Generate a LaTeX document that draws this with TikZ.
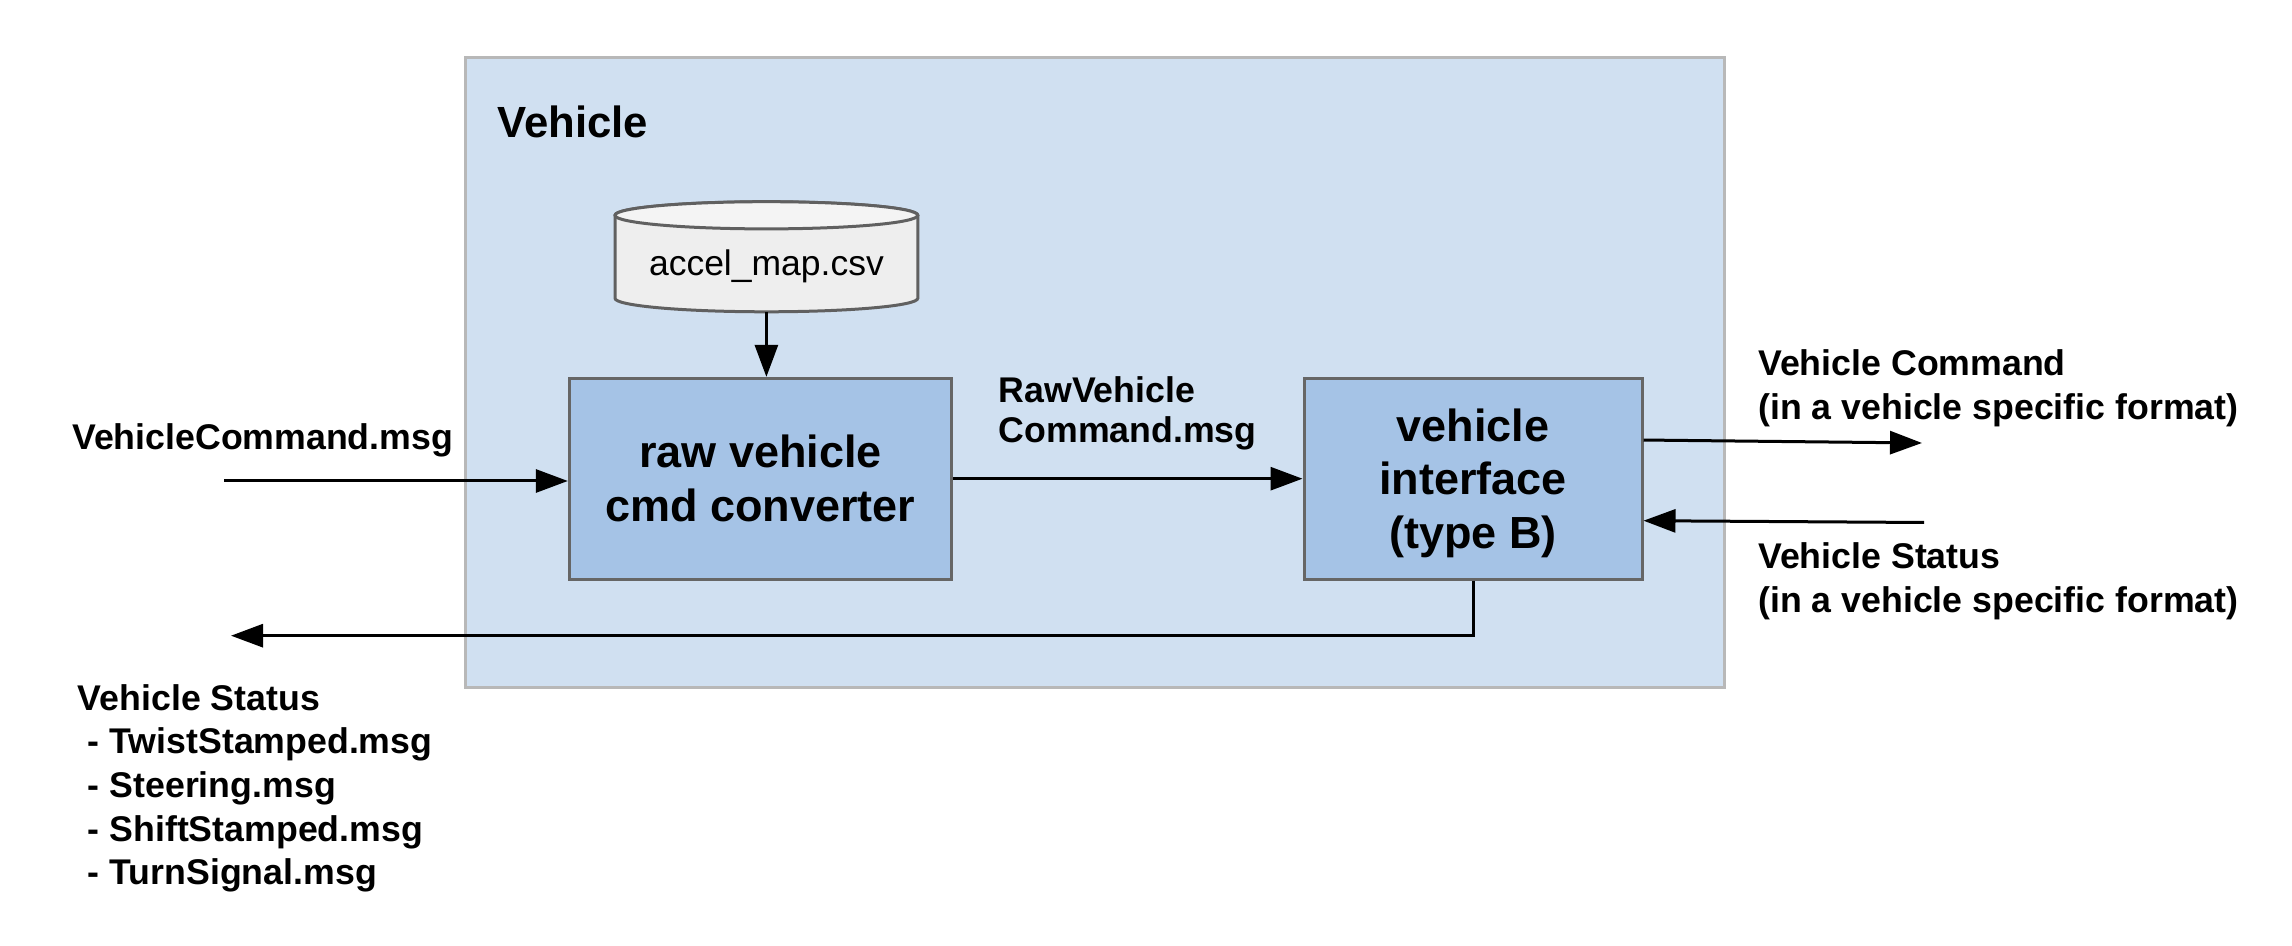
\documentclass[tikz,border=0pt]{standalone}
\usepackage{fontspec}
\setmainfont{Liberation Sans}
\usetikzlibrary{arrows.meta}
\definecolor{vehfill}{HTML}{D0E0F1}
\definecolor{vehline}{HTML}{B8B8B8}
\definecolor{boxfill}{HTML}{A5C3E6}
\definecolor{boxline}{HTML}{666666}
\definecolor{cylbody}{HTML}{EEEEEE}
\definecolor{cyltop}{HTML}{F4F4F4}
\definecolor{cylline}{HTML}{606060}
\begin{document}
\begin{tikzpicture}[x=0.3pt,y=0.3pt,
  conn/.style={line width=0.9pt,-{Triangle[length=9.6pt,width=6.9pt]}},
  blockbox/.style={draw=boxline,line width=0.9pt,fill=boxfill,inner sep=0pt,align=center,
    minimum height=60.2pt,font=\fontsize{13.5}{16.1}\selectfont\bfseries},
  lbl/.style={inner sep=0pt,align=left,font=\fontsize{10.71}{13.2}\selectfont\bfseries},
  container/.style={draw=vehline,fill=vehfill,line width=0.9pt,inner sep=0pt},
  cylshape/.style={draw=cylline,line width=0.9pt}
]
\useasboundingbox (0,0) rectangle (2292,-946);
% container
\node[container,minimum width=377.7pt,minimum height=189pt] (veh) at (1094.5,-372.4) {};
\node[anchor=base west,inner sep=0pt,font=\fontsize{13.1}{16}\selectfont\bfseries] (vtitle) at (497,-137.3) {Vehicle};
% database cylinder
\node[inner sep=0pt,minimum width=90.8pt,minimum height=33pt] (db) at (766.4,-256.5) {};
\path[cylshape,fill=cylbody] (615,-215.3) -- (615,-298.3)
  arc[start angle=180,end angle=360,x radius=151.4,y radius=13.5] -- (917.8,-215.3)
  arc[start angle=0,end angle=180,x radius=151.4,y radius=13.5] -- cycle;
\path[cylshape,fill=cyltop] (766.4,-215.3) ellipse[x radius=151.4,y radius=13.6];
\node[anchor=base,inner sep=0pt,font=\fontsize{10.65}{13}\selectfont] (dbtext) at (766.4,-275.7) {accel\_map.csv};
% blocks
\node[blockbox,minimum width=114.7pt] (conv) at (760.5,-478.7) {raw vehicle\\cmd converter};
\node[blockbox,minimum width=101.4pt,text depth=0pt] (iface) at (1473,-478.7) {vehicle\\interface\\(type B)};
% free ends
\coordinate (cmdin) at (224.3,-481);
\coordinate (vcout) at (1922,-443);
\coordinate (vsin) at (1924,-522.5);
\coordinate (stout) at (231,-635.7);
% connectors
\draw[conn] (db.south) -- (db.south |- conv.north);
\draw[conn] (cmdin) -- (conv.west |- cmdin);
\draw[conn] (conv.east) -- (iface.west);
\draw[conn] ([yshift=11.6pt]iface.east) -- (vcout);
\draw[conn] (vsin) -- ([yshift=-12.6pt]iface.east);
\draw[conn] (iface.south) |- (stout);
% labels (base anchor = baseline of the last line)
\node[lbl,anchor=base west] (lcmd) at (71.5,-449.3) {VehicleCommand.msg};
\node[lbl,anchor=base west,font=\fontsize{10.71}{12}\selectfont\bfseries] (lraw) at (998,-443) {RawVehicle\\Command.msg};
\node[lbl,anchor=base west] (lvc) at (1757.6,-419.5) {Vehicle Command\\(in a vehicle specific format)};
\node[lbl,anchor=base west] (lvs) at (1757.6,-613) {Vehicle Status\\(in a vehicle specific format)};
\node[lbl,anchor=base west,font=\fontsize{10.71}{13.12}\selectfont\bfseries] (lst) at (77.3,-885) {Vehicle Status\\\hspace*{0.278em}- TwistStamped.msg\\\hspace*{0.278em}- Steering.msg\\\hspace*{0.278em}- ShiftStamped.msg\\\hspace*{0.278em}- TurnSignal.msg};
\end{tikzpicture}
\end{document}
